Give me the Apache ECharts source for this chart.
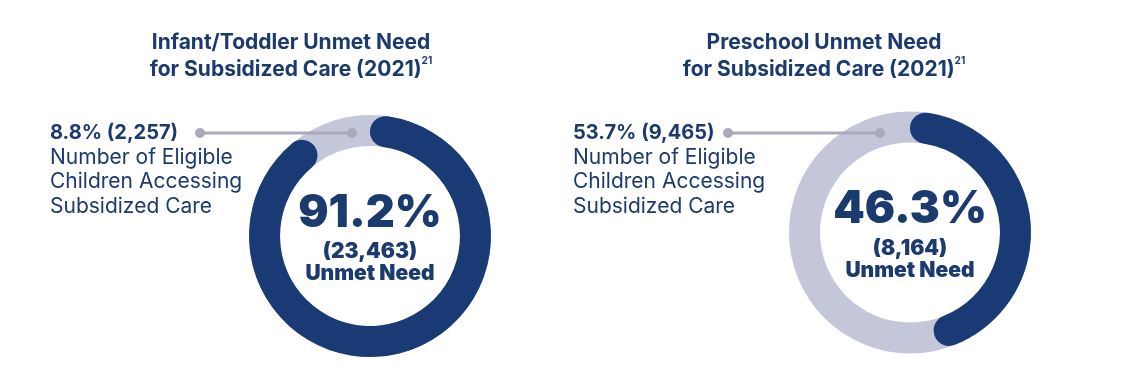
<!DOCTYPE html>
<html><head><meta charset="utf-8">
<script src="https://cdn.jsdelivr.net/npm/echarts@6/dist/echarts.min.js"></script>
<style>html,body{margin:0;padding:0;background:#fff}#c{width:1131px;height:386px}</style>
</head><body><div id="c"></div>
<script>
// ---- data ----
const chartTitles = ['Infant/Toddler Unmet Need', 'Preschool Unmet Need'];
const titleLine2 = 'for Subsidized Care (2021)';
const footnote = '21';
const unmetPct = [91.2, 46.3];
const unmetCount = ['23,463', '8,164'];
const servedPct = [8.8, 53.7];
const servedCount = ['2,257', '9,465'];
const unmetLabel = 'Unmet Need';
const servedLabelLines = ['Number of Eligible', 'Children Accessing', 'Subsidized Care'];

// ---- style / layout ----
const NAVY = '#1a3a76', TEXT = '#1b3a6e', GRAY = '#c4c7da', LEADER = '#a9abba';
const FONT = 'Inter, "Open Sans", sans-serif';
const layout = [
  {cx: 370, cy: 236, titleX: 291, labelX: 50, lineX1: 200, lineX2: 352},
  {cx: 910, cy: 232.5, titleX: 824, labelX: 573, lineX1: 728, lineX2: 880}
];
const R0 = 90, R1 = 121, leaderY = 133;

const series = [], title = [], graphic = [];
layout.forEach((L, i) => {
  series.push({
    type: 'pie', center: [L.cx, L.cy], radius: [R0, R1], silent: true, z: 1,
    label: {show: false}, labelLine: {show: false}, emphasis: {disabled: true},
    itemStyle: {color: GRAY, borderWidth: 0},
    data: [{value: unmetPct[i] + servedPct[i], name: 'total'}]
  });
  series.push({
    type: 'pie', center: [L.cx, L.cy], radius: [R0, R1], silent: true, z: 2,
    startAngle: 90, clockwise: true, avoidLabelOverlap: false,
    emphasis: {disabled: true}, labelLine: {show: false},
    itemStyle: {borderWidth: 0},
    data: [
      {value: unmetPct[i], name: unmetLabel,
       itemStyle: {color: NAVY, borderRadius: (R1 - R0) / 2},
       label: {show: true, position: 'center', offset: [0, -1],
         formatter: `{big|${unmetPct[i]}%}\n{c|(${unmetCount[i]})}\n{c|${unmetLabel}}`,
         rich: {
           big: {fontFamily: FONT, fontSize: 45, fontWeight: 900, color: TEXT, lineHeight: 56, align: 'center'},
           c: {fontFamily: FONT, fontSize: 21, fontWeight: 900, color: TEXT, lineHeight: 22, align: 'center'}
         }}},
      {value: servedPct[i], name: 'served', itemStyle: {color: 'rgba(0,0,0,0)'}, label: {show: false}}
    ]
  });
  title.push({
    text: `{t|${chartTitles[i]}}\n{t|${titleLine2}}{s|${footnote}}`,
    left: L.titleX, top: 29.5, textAlign: 'center', padding: 0,
    textStyle: {rich: {
      t: {fontFamily: FONT, fontSize: 21, fontWeight: 700, color: TEXT, lineHeight: 26.5},
      s: {fontFamily: FONT, fontSize: 10, fontWeight: 700, color: TEXT, verticalAlign: 'top', lineHeight: 14}
    }}
  });
  title.push({
    text: `{b|${servedPct[i]}% (${servedCount[i]})}\n` + servedLabelLines.map(s => `{r|${s}}`).join('\n'),
    left: L.labelX, top: leaderY - 12.2, padding: 0, textAlign: 'left',
    textStyle: {rich: {
      b: {fontFamily: FONT, fontSize: 20, fontWeight: 700, color: TEXT, lineHeight: 24.4},
      r: {fontFamily: FONT, fontSize: 21, fontWeight: 400, color: TEXT, lineHeight: 24.4}
    }}
  });
  graphic.push(
    {type: 'line', z: 100, silent: true, shape: {x1: L.lineX1, y1: leaderY, x2: L.lineX2, y2: leaderY},
     style: {stroke: LEADER, lineWidth: 3}},
    {type: 'circle', z: 101, silent: true, shape: {cx: L.lineX1, cy: leaderY, r: 5}, style: {fill: LEADER}},
    {type: 'circle', z: 101, silent: true, shape: {cx: L.lineX2, cy: leaderY, r: 5}, style: {fill: LEADER}}
  );
});

const chart = echarts.init(document.getElementById('c'), null, {renderer: 'canvas'});
chart.setOption({animation: false, backgroundColor: '#fff', title, series, graphic});
</script></body></html>
